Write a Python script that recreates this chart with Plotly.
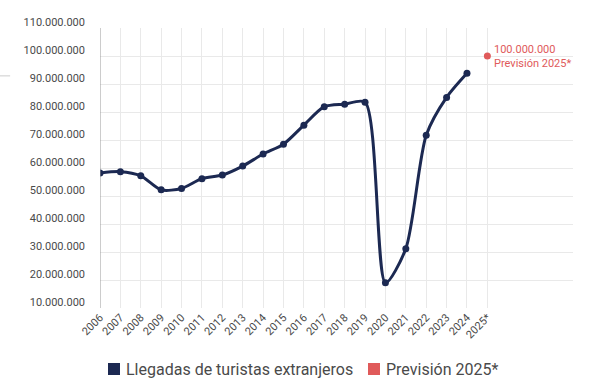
import plotly.graph_objects as go

years = list(range(2006, 2025))
arrivals = [58.2, 58.7, 57.2, 52.2, 52.7, 56.2, 57.5, 60.7, 65.0, 68.5, 75.3, 81.9,
            82.8, 83.5, 19.0, 31.2, 71.7, 85.2, 93.8]
arrivals = [v * 1e6 for v in arrivals]
forecast_year = [2025]
forecast_value = [100e6]
tick_years = list(range(2006, 2026))
tick_text = [str(y) for y in range(2006, 2025)] + ["2025*"]
y_ticks = [v * 1e6 for v in range(10, 111, 10)]
y_tick_text = [f"{int(v/1e6)}.000.000" for v in y_ticks]
series_names = ["Llegadas de turistas extranjeros", "Previsión 2025*"]

NAVY = "#1c2952"
RED = "#e05a5a"
FONT = "Roboto"
TXT = "#4a4a4a"

fig = go.Figure()
fig.add_trace(go.Scatter(
    x=years, y=arrivals, mode="lines+markers", name=series_names[0],
    line=dict(color=NAVY, width=3, shape="spline", smoothing=0.75),
    marker=dict(color=NAVY, size=7),
    showlegend=False))
fig.add_trace(go.Scatter(
    x=forecast_year, y=forecast_value, mode="markers", name=series_names[1],
    marker=dict(color=RED, size=7), showlegend=False))

fig.add_annotation(x=forecast_year[0], y=forecast_value[0], xref="x", yref="y",
                   text="100.000.000<br>Previsión 2025*", showarrow=False,
                   xanchor="left", yanchor="middle", xshift=5, yshift=0, align="left",
                   font=dict(family=FONT, size=11, color=RED))

# custom legend (squares + labels), placed below the plot area
legend_items = [
    (NAVY, series_names[0], 0.0169, 0.0423, 0.0529),
    (RED, series_names[1], 0.5666, 0.5920, 0.6025),
]
for color, label, sx0, sx1, tx in legend_items:
    fig.add_shape(type="rect", xref="paper", yref="paper", x0=sx0, x1=sx1,
                  y0=-0.2393, y1=-0.1964, fillcolor=color, line=dict(width=0))
    fig.add_annotation(x=tx, y=-0.2179, xref="paper", yref="paper", text=label,
                       showarrow=False, xanchor="left", yanchor="middle", borderpad=0,
                       font=dict(family=FONT, size=16, color=TXT))

fig.add_shape(type="line", xref="paper", yref="paper", x0=-0.212, x1=-0.19, y0=0.829, y1=0.829,
              line=dict(color="#cccccc", width=1))

fig.update_layout(
    width=600, height=388,
    margin=dict(l=100, r=27, t=28, b=80, autoexpand=False),
    paper_bgcolor="white", plot_bgcolor="white",
    font=dict(family=FONT, color=TXT),
    showlegend=False,
)
fig.update_xaxes(range=[2006, 2029.2], tickvals=tick_years, ticktext=tick_text, tickangle=-45,
                 showgrid=True, gridcolor="#e9e9e9", gridwidth=1, zeroline=False, automargin=False,
                 showline=False, ticks="", tickfont=dict(size=11, color=TXT))
fig.update_yaxes(range=[10e6, 110e6], tickvals=y_ticks, ticktext=y_tick_text, automargin=False,
                 showgrid=True, gridcolor="#e9e9e9", gridwidth=1, zeroline=False,
                 ticks="", ticklabelstandoff=14, ticklabelshift=-6,
                 tickfont=dict(size=11, color=TXT))
fig.add_shape(type="line", xref="x", yref="paper", x0=2006, x1=2006, y0=0, y1=1,
              line=dict(color="#999999", width=1))

fig.write_html("out.html", config={"displayModeBar": False},
               post_script="document.body.style.margin='0';document.body.style.padding='0';")
